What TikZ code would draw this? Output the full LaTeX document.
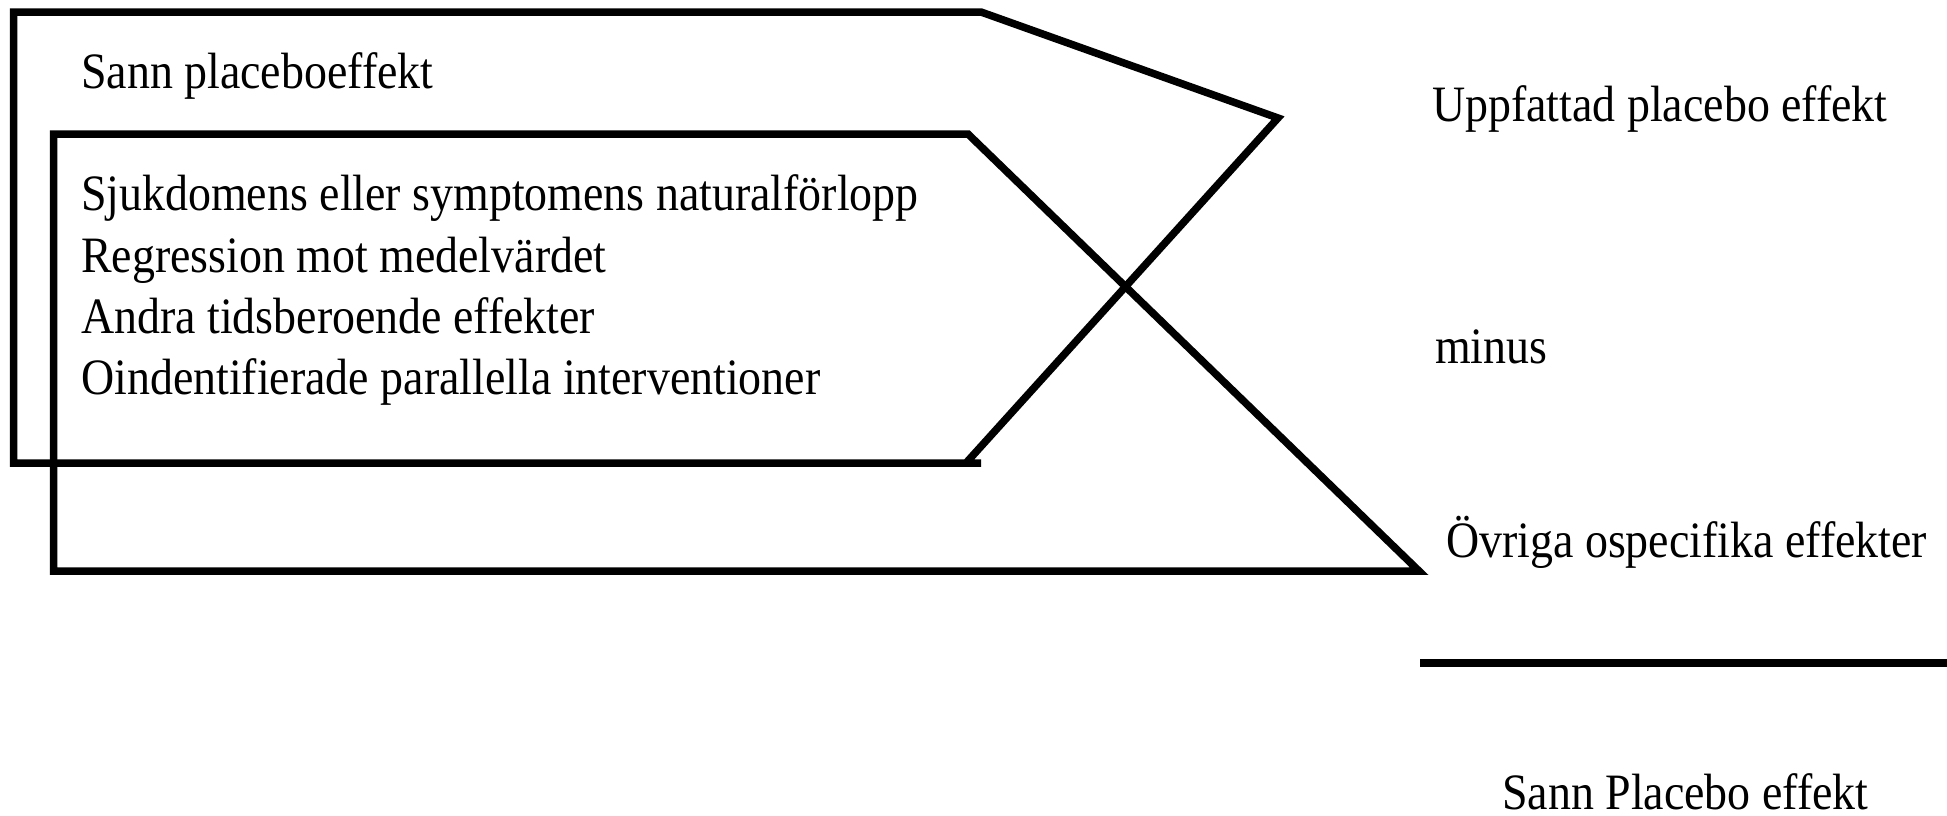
\documentclass[tikz,border=0pt]{standalone}
\usepackage{fontspec}
\setmainfont[FakeStretch=0.9]{Liberation Serif}
\begin{document}
\begin{tikzpicture}[x=1pt,y=-1pt,
  frame/.style={line width=7.5pt, line join=miter},
  label/.style={anchor=base west, inner sep=0pt, font=\fontsize{51}{61}\selectfont}]
\useasboundingbox (0,0) rectangle (1947,815);

% outer arrow-shaped frame
\coordinate (oBR) at (981,463);
\coordinate (oBL) at (13.5,463);
\coordinate (oTL) at (13.5,12);
\coordinate (oTR) at (981,12);
\coordinate (oTip) at (1278,118);
\coordinate (oEnd) at (966,463);
\draw[frame] (oBR) -- (oBL) -- (oTL) -- (oTR) -- (oTip) -- (oEnd);

% inner arrow-shaped frame
\coordinate (iTL) at (53.5,134);
\coordinate (iTR) at (968,134);
\coordinate (iTip) at (1419,571);
\coordinate (iBL) at (53.5,571);
\draw[frame] (iTL) -- (iTR) -- (iTip) -- (iBL) -- cycle;

% result rule
\coordinate (ruleL) at (1420,663);
\coordinate (ruleR) at (1947,663);
\draw[frame] (ruleL) -- (ruleR);

% texts
\node[label] (sann) at (81,88) {Sann placeboeffekt};
\node[label] (l1) at (81,210) {Sjukdomens eller symptomens naturalförlopp};
\node[label] (l2) at (81,272) {Regression mot medelvärdet};
\node[label] (l3) at (81,333) {Andra tidsberoende effekter};
\node[label] (l4) at (81,394) {Oindentifierade parallella interventioner};
\node[label] (upp) at (1432,121) {Uppfattad placebo effekt};
\node[label] (minus) at (1435,363) {minus};
\node[label] (ovr) at (1446,557) {Övriga ospecifika effekter};
\node[label] (sannp) at (1502,809) {Sann Placebo effekt};
\end{tikzpicture}
\end{document}
